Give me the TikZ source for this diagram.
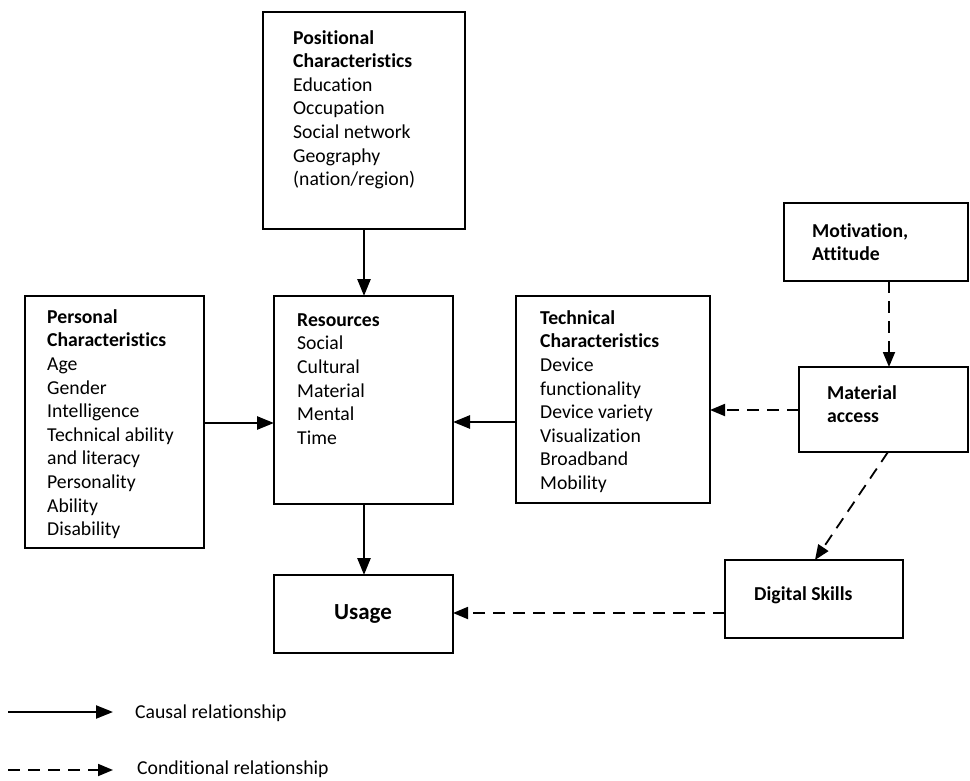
\documentclass[tikz,border=0pt]{standalone}
\usepackage{fontspec}
\setmainfont[Ligatures=NoCommon]{Carlito}
\usetikzlibrary{arrows.meta}
\newcommand{\fl}{\rule{0pt}{15pt}}
\begin{document}
\begin{tikzpicture}[x=1pt,y=-1pt,
  box/.style={draw,line width=1.8pt},
  txt/.style={anchor=north west,inner sep=0pt,align=left,font=\fontsize{19.7}{23.6}\selectfont},
  causal/.style={line width=2.6pt,-{Triangle[length=17pt,width=13pt]}},
  cond/.style={line width=1.8pt,dash pattern=on 12pt off 8pt,-{Triangle[length=15pt,width=12pt]}}]
\useasboundingbox (0,0) rectangle (970,781);
% boxes
\draw[box] (263,12) rectangle (465,229);
\draw[box] (25,296) rectangle (204,548);
\draw[box] (274,296) rectangle (453,504);
\draw[box] (516,296) rectangle (710,503);
\draw[box] (784,203) rectangle (968,281);
\draw[box] (799,367) rectangle (968,452);
\draw[box] (725,560) rectangle (903,638);
\draw[box] (274,575) rectangle (453,653);
% anchor points for connectors
\coordinate (posS) at (364,229);
\coordinate (resN) at (364,296);
\coordinate (perE) at (204,423);
\coordinate (resW) at (274,423);
\coordinate (tecW) at (516,422);
\coordinate (resE) at (453,422);
\coordinate (resS) at (364,504);
\coordinate (useN) at (364,575);
\coordinate (matW) at (799,410);
\coordinate (tecE) at (710,410);
\coordinate (motS) at (889,281);
\coordinate (matN) at (889,367);
\coordinate (matS) at (888,452);
\coordinate (digN) at (815,560);
\coordinate (digW) at (725,613);
\coordinate (useE) at (453,613);
% texts
\node[txt] (tpos) at (293,29) {\fl\textbf{Positional}\\\textbf{Characteristics}\\Education\\Occupation\\Social network\\Geography\\(nation/region)};
\node[txt] (tper) at (47,308) {\fl\textbf{Personal}\\\textbf{Characteristics}\\Age\\Gender\\Intelligence\\Technical ability\\and literacy\\Personality\\Ability\\Disability};
\node[txt] (tres) at (297,311) {\fl\textbf{Resources}\\Social\\Cultural\\Material\\Mental\\Time};
\node[txt] (ttec) at (540,309) {\fl\textbf{Technical}\\\textbf{Characteristics}\\Device\\functionality\\Device variety\\Visualization\\Broadband\\Mobility};
\node[txt] (tmot) at (812,222) {\fl\textbf{Motivation,}\\\textbf{Attitude}};
\node[txt] (tmat) at (827,384) {\fl\textbf{Material}\\\textbf{access}};
\node[txt] (tdig) at (754,585) {\fl\textbf{Digital Skills}};
\node[font=\fontsize{23}{26}\selectfont\bfseries,inner sep=0pt] (tuse) at (363,614) {Usage};
% arrows
\draw[causal] (posS) -- (resN);
\draw[causal] (perE) -- (resW);
\draw[causal] (tecW) -- (resE);
\draw[causal] (resS) -- (useN);
\draw[cond] (matW) -- (tecE);
\draw[cond] (motS) -- (matN);
\draw[cond] (matS) -- (digN);
\draw[cond] (digW) -- (useE);
% legend
\coordinate (l1a) at (8,712); \coordinate (l1b) at (113,712);
\coordinate (l2a) at (8,770); \coordinate (l2b) at (113,770);
\draw[causal,line width=2.2pt] (l1a) -- (l1b);
\draw[cond] (l2a) -- (l2b);
\node[anchor=west,inner sep=0pt,font=\fontsize{19.7}{23.6}\selectfont] (lc) at (135,713) {Causal relationship};
\node[anchor=west,inner sep=0pt,font=\fontsize{19.7}{23.6}\selectfont] (ld) at (137,769) {Conditional relationship};
\end{tikzpicture}
\end{document}
